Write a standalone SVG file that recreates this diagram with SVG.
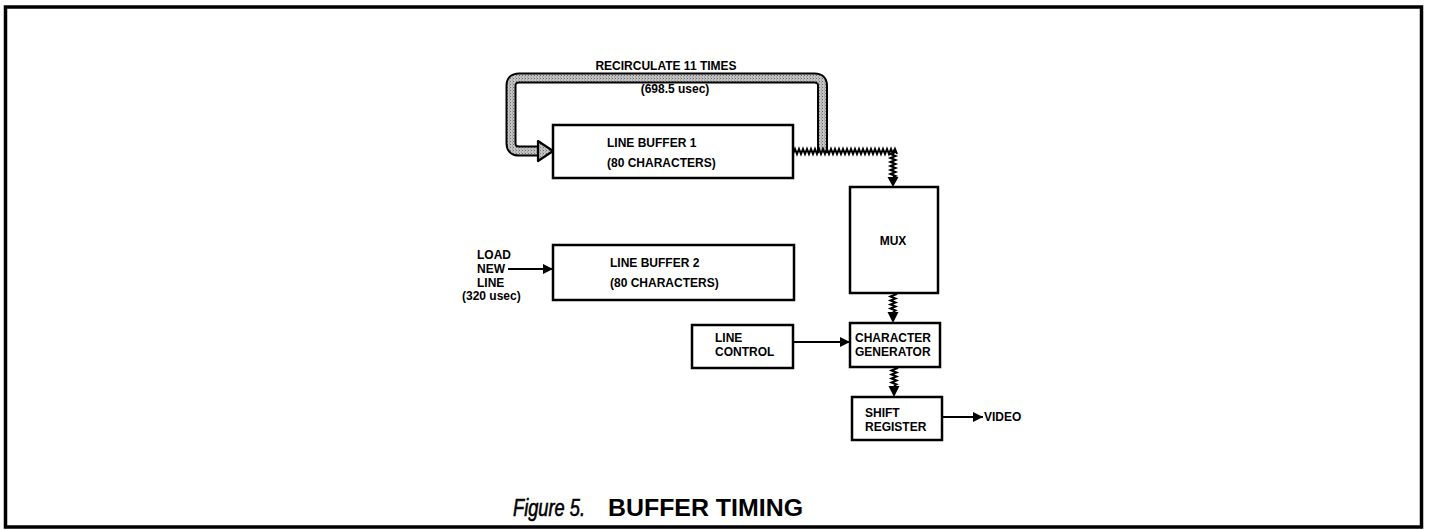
<svg xmlns="http://www.w3.org/2000/svg" width="1429" height="530" viewBox="0 0 1429 530">
<defs>
<style>
.box{fill:#fff;stroke:#000;stroke-width:2.5}
.lbl{font-family:"Liberation Sans",Arial,sans-serif;font-weight:bold;font-size:12px;fill:#000}
.wire{stroke:#000;stroke-width:2;fill:none}
.coil{stroke:#000;stroke-width:2;fill:none;stroke-linejoin:miter}
.head{fill:#000}
</style>
<pattern id="stip" patternUnits="userSpaceOnUse" width="3" height="3">
<rect width="3" height="3" fill="#c4c4c4"/>
<rect x="0" y="0" width="1" height="1" fill="#6a6a6a"/>
<rect x="2" y="1.5" width="1" height="1" fill="#8a8a8a"/>
</pattern>
<marker id="arr" viewBox="0 0 10 10" refX="10" refY="5" markerWidth="5" markerHeight="5" orient="auto" markerUnits="strokeWidth">
<path d="M0,0 L10,5 L0,10 z" fill="#000"/>
</marker>
</defs>
<rect x="0" y="0" width="1429" height="530" fill="#fff"/>
<rect x="5.5" y="7" width="1416" height="520" fill="none" stroke="#000" stroke-width="3.5"/>

<g id="connectors">
<path d="M822.5,153 V86 Q822.5,78 814.5,78 H519 Q511,78 511,86 V143 Q511,151 519,151 H540" fill="none" stroke="#000" stroke-width="11"/>
<path d="M822.5,153 V86 Q822.5,78 814.5,78 H519 Q511,78 511,86 V143 Q511,151 519,151 H541" fill="none" stroke="url(#stip)" stroke-width="7"/>
<polygon points="538,141 553,151 538,161" fill="url(#stip)" stroke="#000" stroke-width="2.2" stroke-linejoin="round"/>
<path class="coil" d="M793,154 l2,-5 l2,5 l2,-5 l2,5 l2,-5 l2,5 l2,-5 l2,5 l2,-5 l2,5 l2,-5 l2,5 l2,-5 l2,5 l2,-5 l2,5 l2,-5 l2,5 l2,-5 l2,5 l2,-5 l2,5 l2,-5 l2,5 l2,-5 l2,5 l2,-5 l2,5 l2,-5 l2,5 l2,-5 l2,5 l2,-5 l2,5 l2,-5 l2,5 l2,-5 l2,5 l2,-5 l2,5 l2,-5 l2,5 l2,-5 l2,5 l2,-5 l2,5 l2,-5 l2,5 l2,-5 l2,5 l2,-5 l2,5"/>
<path class="coil" d="M893,150 l2.5,2 l-5,2 l5,2 l-5,2 l5,2 l-5,2 l5,2 l-5,2 l5,2 l-5,2 l5,2 l-5,2 l5,2 l-2.5,1"/>
<polygon class="head" points="887.5,177 898.5,177 893,187"/>
<path class="coil" d="M893,293 l2.5,1.5 l-5,2 l5,2 l-5,2 l5,2 l-5,2 l5,2 l-5,2 l5,2 l-2.5,1.5"/>
<polygon class="head" points="887.5,312 898.5,312 893,323"/>
<path class="coil" d="M894,367 l2.5,1.5 l-5,2 l5,2 l-5,2 l5,2 l-5,2 l5,2 l-5,2 l5,2 l-2.5,1.5"/>
<polygon class="head" points="888.5,386 899.5,386 894,397"/>
<line class="wire" x1="508" y1="269" x2="553" y2="269" marker-end="url(#arr)"/>
<line class="wire" x1="793" y1="342" x2="850" y2="342" marker-end="url(#arr)"/>
<line class="wire" x1="942" y1="417" x2="983" y2="417" marker-end="url(#arr)"/>
</g>

<g id="recirculate-label">
<text class="lbl" x="666" y="70" text-anchor="middle">RECIRCULATE 11 TIMES</text>
<text class="lbl" x="675" y="93" text-anchor="middle">(698.5 usec)</text>
</g>

<g id="line-buffer-1">
<rect class="box" x="553" y="125" width="240" height="53"/>
<text class="lbl" x="607" y="147">LINE BUFFER 1</text>
<text class="lbl" x="607" y="167">(80 CHARACTERS)</text>
</g>

<g id="line-buffer-2">
<rect class="box" x="553" y="245" width="241" height="55"/>
<text class="lbl" x="610" y="267">LINE BUFFER 2</text>
<text class="lbl" x="610" y="287">(80 CHARACTERS)</text>
</g>

<g id="load-new-line">
<text class="lbl" x="477" y="259">LOAD</text>
<text class="lbl" x="477" y="273">NEW</text>
<text class="lbl" x="477" y="287">LINE</text>
<text class="lbl" x="462" y="300">(320 usec)</text>
</g>

<g id="mux">
<rect class="box" x="850" y="187" width="88" height="106"/>
<text class="lbl" x="893" y="245" text-anchor="middle">MUX</text>
</g>

<g id="line-control">
<rect class="box" x="692" y="325" width="101" height="43"/>
<text class="lbl" x="715" y="342">LINE</text>
<text class="lbl" x="715" y="356">CONTROL</text>
</g>

<g id="character-generator">
<rect class="box" x="850" y="323" width="90" height="44"/>
<text class="lbl" x="855" y="342">CHARACTER</text>
<text class="lbl" x="855" y="356">GENERATOR</text>
</g>

<g id="shift-register">
<rect class="box" x="852" y="397" width="90" height="43"/>
<text class="lbl" x="865" y="417">SHIFT</text>
<text class="lbl" x="865" y="431">REGISTER</text>
</g>

<g id="video">
<text class="lbl" x="984" y="421">VIDEO</text>
</g>

<g id="caption">
<text x="513" y="516" font-family="'Liberation Sans',Arial,sans-serif" font-style="italic" font-size="23px" stroke="#000" stroke-width="0.6" textLength="72" lengthAdjust="spacingAndGlyphs">Figure 5.</text>
<text x="608" y="516" font-family="'Liberation Sans',Arial,sans-serif" font-weight="bold" font-size="23px" textLength="195" lengthAdjust="spacingAndGlyphs">BUFFER TIMING</text>
</g>
</svg>
